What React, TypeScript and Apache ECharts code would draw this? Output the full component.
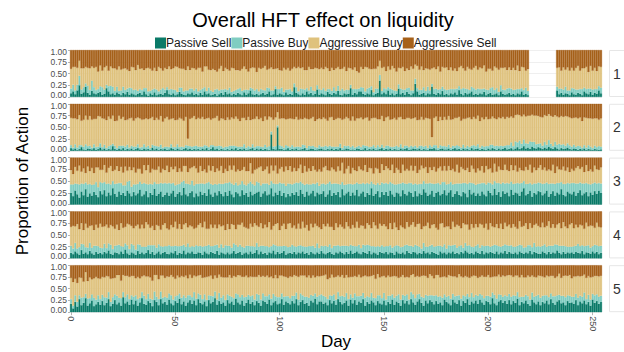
import React, { useEffect, useRef } from "react";
import * as echarts from "echarts";

// ---- data (percent of actions per day, 5 facets) ----
const seriesNames = ["Passive Sell", "Passive Buy", "Aggressive Buy", "Aggressive Sell"];
const seriesColors = ["#0a7a68", "#80cdc1", "#dfc27d", "#a6611a"];
const facetLabels = ["1", "2", "3", "4", "5"];
const xTickEvery = 50;
const yTicks = [0, 0.25, 0.5, 0.75, 1];

const passiveSell1 = [
  8,12,6,14,25,7,10,22,9,5,13,8,6,9,11,
  5,7,19,12,6,8,5,10,7,4,9,6,11,5,8,
  6,4,7,9,5,12,6,3,8,5,10,4,6,7,5,
  9,15,6,5,8,4,6,11,7,5,4,8,6,10,5,
  7,4,9,5,12,6,8,4,5,7,3,6,9,5,11,
  6,8,4,7,5,9,6,4,10,5,8,14,6,5,7,
  4,6,9,5,7,12,4,6,17,5,8,6,4,10,5,
  7,5,21,9,6,4,8,5,12,6,9,4,7,16,5,
  8,6,4,11,7,5,9,6,13,5,4,8,6,7,19,
  5,9,6,12,12,7,5,8,6,15,4,7,9,35,6,
  10,6,14,5,8,4,7,18,6,9,5,11,7,4,8,
  28,12,5,7,9,4,8,6,22,7,5,9,6,13,5,
  7,4,8,6,10,5,15,7,4,9,6,8,12,5,7,
  5,8,6,11,4,7,9,5,6,8,4,12,7,5,6,
  9,5,7,4,8,6,12,5,7,4,null,null,null,null,null,
  null,null,null,null,null,null,null,null,14,6,9,5,8,7,4,
  10,6,5,9,7,4,12,8,6,11,5,9,7,14,8,
];
const passiveBuy1 = [
  10,14,8,12,20,9,11,7,15,10,22,13,9,8,12,
  16,9,7,11,18,14,8,12,6,10,13,9,7,15,11,
  9,12,6,8,10,7,13,9,5,11,8,12,6,9,14,
  7,6,10,12,8,11,5,9,13,7,10,6,12,8,9,
  11,8,6,13,9,7,12,10,6,9,14,8,7,11,6,
  9,12,7,6,10,8,13,9,5,11,7,6,12,9,10,
  8,11,6,9,13,7,10,8,6,12,9,14,7,6,11,
  10,7,8,12,6,14,9,11,7,8,13,10,6,9,12,
  7,13,9,6,10,8,12,7,11,9,14,6,10,8,7,
  12,8,11,6,9,13,7,10,14,8,6,11,9,12,7,
  9,11,7,13,8,10,6,9,12,7,11,8,13,10,6,
  11,7,10,8,12,9,14,8,6,10,13,7,11,9,12,
  8,12,9,11,7,13,8,10,15,9,11,7,10,14,9,
  13,9,11,7,12,8,10,16,9,11,7,13,9,10,12,
  10,13,8,12,9,11,7,10,13,9,null,null,null,null,null,
  null,null,null,null,null,null,null,null,8,12,9,11,14,7,10,
  9,12,11,7,10,13,8,9,12,7,11,8,10,9,12,
];
const aggressiveBuy1 = [
  42,38,50,36,32,45,40,35,38,46,30,41,49,37,44,
  35,47,40,33,41,39,48,36,52,44,38,46,40,35,45,
  48,41,55,43,46,38,42,50,47,40,44,39,52,45,37,
  46,38,49,42,45,50,53,41,40,48,43,51,39,44,47,
  40,50,47,36,44,52,38,43,49,41,37,46,50,39,45,
  44,36,51,48,42,40,37,47,50,43,39,41,45,48,36,
  50,43,47,52,38,41,49,45,37,44,40,36,51,42,46,
  39,48,35,40,52,43,46,41,38,50,37,45,49,36,42,
  47,40,51,44,38,49,36,48,40,45,42,50,39,47,35,
  41,46,38,34,43,39,52,45,40,36,50,42,47,30,49,
  45,38,44,40,50,47,41,35,43,48,39,42,37,51,46,
  30,47,43,50,36,48,38,44,33,46,41,49,37,42,45,
  48,41,46,39,44,37,40,49,42,38,47,45,36,43,50,
  40,46,44,49,38,45,41,35,50,43,47,37,46,48,39,
  44,39,47,41,50,38,45,48,36,46,null,null,null,null,null,
  null,null,null,null,null,null,null,null,40,45,38,47,36,49,42,
  43,38,46,50,39,44,41,47,35,48,40,45,38,42,44,
];

const passiveSell2 = [
  6,3,5,2,4,8,3,2,5,4,3,6,2,4,7,
  3,5,2,4,3,10,4,2,5,3,6,2,4,3,5,
  2,4,6,3,2,5,3,4,2,7,3,5,2,4,3,
  5,2,3,6,4,2,5,3,2,4,6,3,5,2,4,
  3,4,2,5,3,6,2,4,8,3,5,2,4,3,2,
  4,2,5,3,6,2,4,3,5,2,3,4,6,2,5,
  3,5,2,4,3,2,35,4,3,50,4,4,2,3,6,
  2,4,3,5,2,3,4,6,2,3,5,4,2,3,4,
  5,3,2,4,3,5,2,4,3,6,2,3,5,4,2,
  3,2,5,4,2,3,6,2,4,3,5,2,3,4,6,
  2,4,3,5,2,4,3,2,5,3,4,6,2,3,5,
  4,3,5,2,4,3,2,5,4,6,3,2,4,5,3,
  3,5,2,4,6,3,4,2,5,3,4,2,6,3,4,
  5,2,4,3,2,5,3,6,4,2,5,3,4,7,3,
  4,6,3,5,8,4,6,10,5,7,4,9,6,5,8,
  6,4,7,5,9,6,4,8,5,3,6,4,5,7,4,
  3,5,4,2,4,3,5,2,4,3,2,4,3,2,3,
];
const passiveBuy2 = [
  6,4,9,5,8,4,6,12,5,7,4,8,6,5,9,
  5,8,4,6,9,5,7,4,6,8,5,7,9,4,6,
  7,5,8,4,6,9,5,7,4,6,8,5,7,9,4,
  4,7,5,8,4,6,9,5,7,4,6,8,5,7,6,
  8,5,7,4,9,5,6,8,4,7,5,9,6,4,7,
  5,9,6,8,4,7,5,6,9,5,7,4,8,6,5,
  7,4,6,9,5,8,6,5,7,4,8,6,5,9,4,
  6,8,5,4,7,5,9,6,4,8,5,7,6,4,8,
  4,6,9,5,8,4,7,5,6,9,4,8,5,7,6,
  8,5,4,7,6,9,5,8,4,6,7,5,9,4,7,
  5,7,8,4,6,5,8,6,9,4,7,5,6,8,4,
  7,4,6,9,5,8,4,7,5,6,9,4,8,5,7,
  6,8,5,7,4,9,6,5,8,4,7,6,5,9,6,
  9,5,7,6,8,5,10,7,6,9,5,8,6,4,9,
  8,12,7,15,10,18,9,14,11,8,16,10,13,9,7,
  10,7,12,8,14,9,6,11,8,12,7,10,6,9,8,
  6,8,5,9,6,4,7,5,8,6,4,7,5,8,6,
];
const aggressiveBuy2 = [
  58,62,55,60,64,52,57,61,56,63,59,54,60,65,57,
  61,55,59,63,56,60,52,58,64,57,61,56,53,62,59,
  55,60,57,62,58,53,61,56,63,59,54,60,57,61,55,
  60,63,58,54,61,57,52,62,59,56,60,15,58,61,64,
  56,61,59,63,55,58,62,54,57,60,64,53,59,61,56,
  62,55,60,57,63,59,54,61,56,58,62,57,53,60,63,
  57,61,55,60,58,63,30,57,61,28,56,59,62,55,58,
  61,56,59,63,57,60,54,58,62,56,59,61,55,60,57,
  58,62,57,55,60,63,56,59,61,54,60,57,62,58,56,
  62,57,60,58,63,55,59,61,56,60,58,63,55,59,61,
  56,60,62,57,59,61,55,63,58,60,56,59,62,57,60,
  60,58,55,61,57,59,63,56,20,58,61,57,60,55,62,
  57,61,59,56,60,58,62,57,55,61,59,63,56,60,58,
  61,56,60,58,62,57,55,60,59,56,61,58,62,57,60,
  58,55,60,56,59,54,58,53,57,60,55,58,56,61,59,
  56,60,57,61,55,59,62,57,60,56,61,58,63,57,59,
  60,57,62,58,61,56,59,63,57,60,62,58,61,56,60,
];

const passiveSell3 = [
  25,18,30,22,15,28,20,33,17,24,19,27,21,16,29,
  22,31,18,26,20,35,23,17,28,21,25,19,30,24,18,
  27,20,24,32,18,22,29,16,25,21,34,19,23,28,17,
  21,26,19,24,30,17,23,27,20,36,22,18,25,29,16,
  24,18,28,21,25,19,33,22,17,26,20,29,23,18,27,
  19,30,22,16,27,24,18,31,21,25,17,28,20,23,26,
  28,17,24,29,20,22,35,18,26,21,30,19,25,16,23,
  18,25,21,27,19,32,23,17,28,20,24,30,18,26,22,
  23,29,17,22,31,19,25,21,27,16,33,20,24,28,19,
  26,20,32,18,24,28,17,25,21,35,19,23,29,16,27,
  21,27,19,30,22,17,26,24,18,31,23,20,28,25,17,
  29,18,24,21,33,26,19,22,30,17,25,28,20,23,31,
  20,26,31,17,23,29,21,18,27,24,16,32,22,26,19,
  24,19,28,22,18,30,25,20,34,21,27,17,29,23,26,
  18,32,21,26,24,19,28,35,20,23,30,17,25,22,29,
  27,20,24,30,17,23,29,19,26,22,33,21,18,28,24,
  22,28,19,25,31,20,24,27,18,26,21,29,23,30,25,
];
const passiveBuy3 = [
  18,25,15,22,28,17,24,14,26,20,23,16,27,21,19,
  24,17,26,19,23,15,21,28,18,25,16,22,19,27,20,
  16,23,20,17,26,24,15,27,19,22,14,25,21,18,28,
  25,19,27,21,16,24,20,17,28,15,23,26,18,22,25,
  20,26,17,24,19,27,15,22,25,18,23,16,21,26,19,
  27,18,23,26,20,17,25,19,22,16,28,21,24,18,23,
  19,24,21,16,25,20,15,27,18,23,17,26,20,24,22,
  26,18,24,20,27,17,22,25,16,23,19,15,26,21,18,
  21,16,26,23,18,25,20,24,17,27,15,22,19,16,25,
  17,24,15,26,20,18,27,21,23,14,25,19,17,26,20,
  24,19,25,18,23,26,17,20,27,16,22,24,18,21,26,
  16,25,20,23,17,19,26,24,15,27,20,18,23,25,17,
  23,18,17,26,21,16,24,27,19,22,28,15,24,19,23,
  20,26,18,24,25,17,21,23,16,25,19,27,18,22,20,
  27,17,23,19,22,26,18,15,24,21,16,26,20,23,18,
  19,24,21,17,27,22,16,25,20,24,15,23,26,18,21,
  24,18,26,20,16,25,21,19,26,17,24,18,22,16,20,
];
const aggressiveBuy3 = [
  30,22,35,28,40,25,33,20,38,27,36,24,31,42,26,
  28,36,24,33,39,21,30,37,25,34,27,40,23,29,35,
  36,25,32,27,22,38,29,41,24,33,26,30,37,22,31,
  27,38,23,35,29,40,26,33,22,31,37,25,34,28,41,
  33,24,37,26,31,22,35,28,40,25,34,27,38,23,30,
  25,35,29,41,23,34,28,24,37,30,26,39,22,33,27,
  32,40,26,30,36,24,33,27,39,22,29,35,25,41,28,
  38,27,33,24,31,36,22,40,26,34,28,37,30,23,35,
  26,34,39,28,23,35,30,25,37,29,41,24,33,38,22,
  35,29,24,37,31,26,40,23,34,28,22,36,30,25,39,
  28,36,33,25,40,24,35,30,22,38,27,32,26,37,29,
  37,24,30,39,27,35,22,33,28,36,25,31,38,24,34,
  29,38,25,33,26,40,23,35,30,27,34,22,37,31,26,
  33,27,36,22,39,28,31,25,37,24,35,30,26,40,28,
  26,35,29,38,24,33,27,22,36,30,39,25,34,28,31,
  38,30,34,25,31,27,40,23,35,29,26,37,28,33,24,
  30,26,33,37,29,35,24,38,27,32,25,36,30,28,34,
];

const passiveSell4 = [
  12,9,15,11,8,18,10,13,9,16,11,8,14,10,12,
  9,14,11,17,10,8,13,12,9,15,10,19,11,8,13,
  11,8,16,10,13,9,12,18,10,14,8,11,15,9,12,
  14,10,9,13,11,16,8,12,10,17,9,13,11,15,10,
  10,13,12,8,15,11,9,14,12,10,16,8,13,11,9,
  13,9,11,16,10,12,14,8,11,13,9,15,10,12,18,
  9,15,10,12,8,13,11,17,9,14,10,12,16,8,11,
  12,10,14,9,13,11,15,10,12,8,14,11,9,13,10,
  16,11,9,12,14,10,8,13,11,15,12,9,14,10,17,
  10,12,15,11,9,14,12,10,16,9,13,11,8,14,12,
  11,14,9,13,12,8,15,11,10,13,9,16,12,10,14,
  13,9,12,10,16,11,13,9,14,12,10,8,15,11,13,
  9,13,11,15,10,12,9,14,11,17,13,10,12,9,15,
  12,10,16,9,13,11,14,12,10,15,9,13,11,16,10,
  14,11,10,13,9,15,12,10,13,11,16,9,14,12,10,
  10,15,12,9,14,10,13,11,17,12,9,14,10,13,11,
  13,10,14,12,11,16,9,13,12,10,15,11,14,9,12,
];
const passiveBuy4 = [
  15,12,18,10,16,13,20,11,14,17,12,19,13,16,11,
  13,17,11,15,19,12,14,16,20,11,15,13,17,12,18,
  17,11,14,19,12,16,13,10,18,14,20,12,15,17,13,
  12,16,19,13,15,11,18,14,17,12,16,19,13,11,15,
  18,13,15,17,11,16,20,12,14,18,13,15,17,12,19,
  14,18,12,16,19,13,15,17,12,14,18,11,16,13,15,
  16,12,17,14,18,11,15,13,19,12,16,14,11,18,13,
  13,19,12,16,14,17,11,15,13,18,12,16,14,19,12,
  11,15,18,13,16,12,19,14,17,11,15,18,13,16,12,
  17,14,11,18,13,15,16,19,12,17,13,14,18,11,16,
  14,12,17,15,11,18,13,16,14,12,19,13,15,17,11,
  16,18,13,11,17,14,12,18,15,13,16,19,12,14,17,
  12,15,16,13,19,11,17,14,12,16,14,18,13,15,12,
  18,13,12,17,14,16,11,15,19,13,17,12,16,14,18,
  13,17,15,12,18,14,16,13,11,17,12,15,19,13,16,
  15,12,18,16,13,17,14,19,12,15,18,13,16,12,14,
  12,16,13,19,15,12,17,14,16,13,11,18,14,17,15,
];
const aggressiveBuy4 = [
  40,48,35,52,38,44,30,50,42,36,47,33,45,39,51,
  45,37,50,33,42,48,36,44,31,49,40,35,46,52,38,
  36,50,42,34,47,39,52,44,37,41,32,48,39,35,46,
  49,38,33,45,40,51,37,47,35,43,50,34,46,42,38,
  37,45,48,41,52,36,34,46,39,44,35,49,38,47,32,
  46,35,50,39,33,47,42,51,44,38,36,48,41,50,37,
  42,48,37,46,40,53,35,39,45,49,34,43,47,36,50,
  50,36,44,38,47,35,52,40,46,33,48,39,51,37,44,
  35,47,41,49,37,45,33,48,38,46,40,36,50,42,34,
  44,39,52,36,48,40,35,46,43,38,51,45,37,49,41,
  48,42,36,47,39,50,38,33,46,41,35,48,40,44,52,
  38,46,49,41,35,44,51,37,42,48,39,34,47,50,36,
  47,40,35,50,38,49,43,36,52,39,45,33,48,41,46,
  36,51,44,39,47,34,50,41,37,45,38,49,35,46,40,
  45,37,48,42,36,50,39,46,51,34,47,41,38,49,43,
  41,49,36,44,52,38,46,35,43,48,37,50,42,39,47,
  50,38,45,35,46,42,37,49,40,47,43,36,48,41,39,
];

const passiveSell5 = [
  18,8,22,12,28,15,20,30,14,19,25,13,17,22,16,
  24,15,20,28,13,18,26,17,21,14,32,19,23,16,27,
  17,25,14,21,30,18,16,24,20,13,26,22,15,28,19,
  22,16,27,19,15,24,20,29,17,23,14,21,26,18,25,
  15,28,20,17,23,13,26,19,22,30,16,24,18,21,14,
  26,19,23,16,29,21,17,25,14,20,27,18,22,15,24,
  20,14,25,22,18,27,15,21,24,17,19,28,16,23,20,
  17,24,19,28,15,22,26,18,20,14,25,21,29,17,23,
  23,18,21,15,26,19,24,16,28,22,17,20,25,14,27,
  19,26,16,23,20,28,14,22,18,25,21,15,24,19,17,
  25,15,22,18,27,16,23,20,14,26,19,24,17,28,21,
  16,23,28,20,14,25,19,26,22,17,24,18,21,15,27,
  22,19,15,27,21,18,26,14,24,20,28,16,23,19,25,
  18,27,21,16,24,22,17,30,19,15,23,26,20,24,18,
  26,17,24,20,29,15,22,19,25,18,14,27,21,17,23,
  15,22,19,25,17,28,20,16,23,26,19,21,15,24,20,
  21,18,26,15,23,19,25,17,22,14,27,20,24,18,22,
];
const passiveBuy5 = [
  10,6,14,10,8,16,12,9,15,11,13,18,10,14,12,
  13,17,11,15,9,14,12,18,10,16,11,13,15,12,9,
  16,11,14,10,13,17,12,15,9,14,18,11,13,16,12,
  11,15,13,17,12,10,16,11,14,13,17,15,10,14,18,
  14,12,17,11,15,13,10,16,12,14,11,17,13,15,12,
  12,16,10,14,11,17,15,12,18,13,10,16,14,12,15,
  17,13,15,12,16,11,14,18,10,15,13,12,17,11,14,
  13,11,16,14,12,18,10,15,13,17,12,14,11,16,13,
  15,17,12,13,10,16,14,11,15,12,18,13,16,14,11,
  12,14,18,11,15,13,17,12,14,16,10,15,12,17,13,
  16,12,13,17,11,15,12,18,13,11,16,14,10,15,17,
  14,15,11,13,17,12,16,10,14,18,12,15,13,16,11,
  11,16,14,12,13,17,10,15,12,14,11,16,18,13,12,
  17,12,15,14,11,13,16,12,18,14,15,11,13,12,16,
  13,16,12,15,14,17,11,14,12,16,13,15,12,18,14,
  16,13,17,11,15,12,14,18,13,11,16,14,17,12,15,
  12,15,13,16,12,14,17,11,15,13,12,16,14,15,13,
];
const aggressiveBuy5 = [
  45,50,35,40,38,42,33,46,37,44,32,41,48,36,43,
  38,42,46,33,49,40,35,44,48,37,36,45,39,47,41,
  44,36,47,41,33,43,48,37,45,40,35,46,42,34,47,
  40,45,35,43,48,37,42,34,46,39,47,36,44,41,35,
  47,38,42,45,36,49,40,43,37,34,46,39,44,38,48,
  36,44,40,47,35,41,46,38,43,45,37,42,39,48,36,
  42,48,37,41,44,36,47,33,45,40,46,38,43,41,39,
  46,40,44,35,48,38,42,45,41,47,36,43,34,44,40,
  39,43,47,42,37,45,36,48,35,41,44,40,38,46,37,
  44,37,41,46,39,35,47,42,44,36,48,41,45,38,46,
  36,47,43,40,38,46,41,35,48,42,39,37,47,36,43,
  45,39,36,44,47,40,38,45,41,37,43,46,40,44,38,
  41,44,48,37,42,39,45,47,38,43,36,41,35,46,40,
  38,36,42,45,40,44,41,33,39,47,42,38,45,40,44,
  40,45,39,43,35,42,46,41,37,44,48,36,42,39,41,
  46,41,38,42,44,37,43,39,40,45,38,42,46,41,44,
  39,43,37,46,41,44,38,45,40,47,36,41,39,43,42,
];

const facets = [
  [passiveSell1, passiveBuy1, aggressiveBuy1],
  [passiveSell2, passiveBuy2, aggressiveBuy2],
  [passiveSell3, passiveBuy3, aggressiveBuy3],
  [passiveSell4, passiveBuy4, aggressiveBuy4],
  [passiveSell5, passiveBuy5, aggressiveBuy5],
];

const days = passiveSell1.map((_, i) => String(i));

const FONT = "Liberation Sans, Arial, sans-serif";

export default function App() {
  const ref = useRef<HTMLDivElement>(null);
  useEffect(() => {
    if (!ref.current) return;
    const chart = echarts.init(ref.current, undefined, { renderer: "svg" });
    const W = 624;
    const left = 70;
    const right = 22;
    const top0 = 50;
    const pitch = 53.8;
    const h = 47;
    const n = facets.length;

    const grids: any[] = [];
    const xAxes: any[] = [];
    const yAxes: any[] = [];
    const series: any[] = [];
    const graphics: any[] = [];

    const labelStyle = { fontSize: 8.5, color: "#4d4d4d", fontFamily: FONT };

    facets.forEach((f, p) => {
      const top = top0 + p * pitch;
      grids.push({ left, right, top, height: h, containLabel: false });
      const isLast = p === n - 1;
      xAxes.push({
        type: "category",
        gridIndex: p,
        data: days,
        boundaryGap: true,
        axisLine: { show: false },
        axisTick: {
          show: isLast,
          alignWithLabel: true,
          interval: xTickEvery - 1,
          length: 3,
          lineStyle: { color: "#b3b3b3" },
        },
        axisLabel: {
          show: isLast,
          interval: xTickEvery - 1,
          rotate: -90,
          fontSize: 9,
          color: "#4d4d4d",
          fontFamily: FONT,
          margin: 4,
        },
        splitLine: { show: false },
      });
      yAxes.push({
        type: "value",
        gridIndex: p,
        min: yTicks[0],
        max: yTicks[yTicks.length - 1],
        interval: yTicks[1] - yTicks[0],
        axisLine: { show: false },
        axisTick: { show: true, length: 2, lineStyle: { color: "#b3b3b3" } },
        axisLabel: {
          ...labelStyle,
          margin: 3,
          formatter: (v: number) => {
            const t = v.toFixed(2);
            if (v >= 1) return "{hi|" + t + "}";
            if (v <= 0) return "{lo|" + t + "}";
            return t;
          },
          rich: {
            hi: { ...labelStyle, padding: [4, 0, 0, 0] },
            lo: { ...labelStyle, padding: [0, 0, 4, 0] },
          },
        },
        splitLine: { show: true, lineStyle: { color: "#ebebeb", width: 0.8 } },
      });
      const ps = f[0], pb = f[1], ab = f[2];
      const as = ps.map((v, i) =>
        v === null ? null : 100 - (v as number) - (pb[i] as number) - (ab[i] as number)
      );
      const comps = [ps, pb, ab, as];
      comps.forEach((arr, s) => {
        series.push({
          type: "bar",
          name: seriesNames[s],
          stack: "facet" + p,
          xAxisIndex: p,
          yAxisIndex: p,
          barCategoryGap: "0%",
          silent: true,
          itemStyle: { color: seriesColors[s], borderColor: seriesColors[s], borderWidth: 0.35 },
          data: arr.map((v) => (v === null ? null : (v as number) / 100)),
        });
      });
      graphics.push({
        type: "rect",
        shape: { x: 609.5, y: top + 0.5, width: 30, height: h - 1 },
        style: { fill: "#ffffff", stroke: "#e6e6e6", lineWidth: 1 },
      });
      graphics.push({
        type: "text",
        x: 617,
        y: top + h / 2,
        style: {
          text: facetLabels[p],
          fontSize: 14,
          fontFamily: FONT,
          fill: "#333333",
          align: "center",
          verticalAlign: "middle",
        },
      });
    });

    graphics.push({
      type: "text",
      x: 22,
      y: (top0 + top0 + (n - 1) * pitch + h) / 2,
      rotation: Math.PI / 2,
      style: {
        text: "Proportion of Action",
        fontSize: 17,
        fontFamily: FONT,
        fill: "#000000",
        align: "center",
        verticalAlign: "middle",
      },
    });
    graphics.push({
      type: "text",
      x: left + (W - left - right) / 2,
      y: 341,
      style: {
        text: "Day",
        fontSize: 17,
        fontFamily: FONT,
        fill: "#000000",
        align: "center",
        verticalAlign: "middle",
      },
    });

    chart.setOption({
      animation: false,
      backgroundColor: "#ffffff",
      title: {
        text: "Overall HFT effect on liquidity",
        left: 318,
        textAlign: "center",
        top: 5,
        textStyle: { fontSize: 20, fontWeight: "normal", color: "#000000", fontFamily: FONT },
      },
      legend: {
        data: seriesNames,
        top: 32,
        left: 150,
        itemWidth: 9,
        itemHeight: 9,
        itemGap: 0,
        icon: "rect",
        selectedMode: false,
        textStyle: { fontSize: 12, color: "#1a1a1a", fontFamily: FONT, padding: [0, 0, 0, -4] },
      },
      grid: grids,
      xAxis: xAxes,
      yAxis: yAxes,
      series,
      graphic: graphics,
    });
    return () => chart.dispose();
  }, []);
  return <div ref={ref} style={{ width: 624, height: 352, position: "absolute", left: 0, top: 0 }} />;
}
